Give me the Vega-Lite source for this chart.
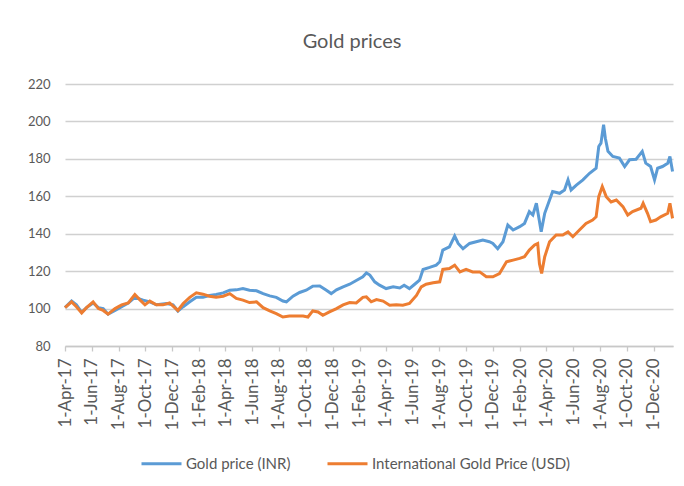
{
  "$schema": "https://vega.github.io/schema/vega-lite/v6.json",
  "width": 608,
  "height": 262,
  "autosize": {"type": "none"},
  "padding": {"left": 65, "top": 84, "right": 11, "bottom": 140},
  "background": "white",
  "title": {"text": "Gold prices", "fontSize": 20, "font": "Lato", "fontWeight": "normal", "color": "#595959", "offset": 26, "dx": -17},
  "config": {
    "view": {"stroke": null},
    "font": "Lato",
    "axisX": {"grid": false, "domain": true, "domainColor": "#c8c8c8", "domainWidth": 1.3, "ticks": true, "tickColor": "#c8c8c8", "tickWidth": 1.3, "tickSize": 5, "labelAngle": 270, "labelFontSize": 17, "labelColor": "#595959", "labelPadding": 7, "labelOverlap": false, "labelFlush": false, "title": null},
    "axisY": {"grid": true, "gridColor": "#d0d0d0", "gridWidth": 1.3, "domain": false, "ticks": false, "labelFontSize": 13, "labelColor": "#595959", "labelPadding": 15, "title": null}
  },
  "data": {"values": [
      {"series": "Gold price (INR)", "date": "2017-04-01", "value": 100.5}, {"series": "Gold price (INR)", "date": "2017-04-16", "value": 104}, {"series": "Gold price (INR)", "date": "2017-04-27", "value": 102},
      {"series": "Gold price (INR)", "date": "2017-05-09", "value": 98}, {"series": "Gold price (INR)", "date": "2017-05-20", "value": 100.5}, {"series": "Gold price (INR)", "date": "2017-06-04", "value": 103},
      {"series": "Gold price (INR)", "date": "2017-06-16", "value": 100.5}, {"series": "Gold price (INR)", "date": "2017-06-27", "value": 100}, {"series": "Gold price (INR)", "date": "2017-07-08", "value": 97},
      {"series": "Gold price (INR)", "date": "2017-07-24", "value": 99}, {"series": "Gold price (INR)", "date": "2017-08-08", "value": 101}, {"series": "Gold price (INR)", "date": "2017-08-23", "value": 103},
      {"series": "Gold price (INR)", "date": "2017-09-07", "value": 106}, {"series": "Gold price (INR)", "date": "2017-09-26", "value": 104.5}, {"series": "Gold price (INR)", "date": "2017-10-11", "value": 103.6},
      {"series": "Gold price (INR)", "date": "2017-10-26", "value": 102}, {"series": "Gold price (INR)", "date": "2017-11-18", "value": 102.7}, {"series": "Gold price (INR)", "date": "2017-12-03", "value": 102},
      {"series": "Gold price (INR)", "date": "2017-12-14", "value": 98.7}, {"series": "Gold price (INR)", "date": "2017-12-26", "value": 101}, {"series": "Gold price (INR)", "date": "2018-01-10", "value": 103.6},
      {"series": "Gold price (INR)", "date": "2018-01-25", "value": 106}, {"series": "Gold price (INR)", "date": "2018-02-09", "value": 106}, {"series": "Gold price (INR)", "date": "2018-02-24", "value": 107},
      {"series": "Gold price (INR)", "date": "2018-03-11", "value": 107.5}, {"series": "Gold price (INR)", "date": "2018-03-27", "value": 108.4}, {"series": "Gold price (INR)", "date": "2018-04-11", "value": 109.8},
      {"series": "Gold price (INR)", "date": "2018-04-26", "value": 110}, {"series": "Gold price (INR)", "date": "2018-05-11", "value": 110.7}, {"series": "Gold price (INR)", "date": "2018-05-26", "value": 109.8},
      {"series": "Gold price (INR)", "date": "2018-06-11", "value": 109.5}, {"series": "Gold price (INR)", "date": "2018-06-26", "value": 108}, {"series": "Gold price (INR)", "date": "2018-07-11", "value": 106.8},
      {"series": "Gold price (INR)", "date": "2018-07-26", "value": 106}, {"series": "Gold price (INR)", "date": "2018-08-10", "value": 104}, {"series": "Gold price (INR)", "date": "2018-08-18", "value": 103.6},
      {"series": "Gold price (INR)", "date": "2018-09-02", "value": 106.6}, {"series": "Gold price (INR)", "date": "2018-09-17", "value": 108.6}, {"series": "Gold price (INR)", "date": "2018-10-02", "value": 109.8},
      {"series": "Gold price (INR)", "date": "2018-10-17", "value": 112}, {"series": "Gold price (INR)", "date": "2018-11-02", "value": 112.1}, {"series": "Gold price (INR)", "date": "2018-11-17", "value": 109.8},
      {"series": "Gold price (INR)", "date": "2018-11-28", "value": 108}, {"series": "Gold price (INR)", "date": "2018-12-10", "value": 110}, {"series": "Gold price (INR)", "date": "2018-12-25", "value": 111.6},
      {"series": "Gold price (INR)", "date": "2019-01-09", "value": 113}, {"series": "Gold price (INR)", "date": "2019-01-24", "value": 115}, {"series": "Gold price (INR)", "date": "2019-02-08", "value": 117},
      {"series": "Gold price (INR)", "date": "2019-02-16", "value": 119}, {"series": "Gold price (INR)", "date": "2019-02-24", "value": 117.9}, {"series": "Gold price (INR)", "date": "2019-03-07", "value": 114.3},
      {"series": "Gold price (INR)", "date": "2019-03-18", "value": 112.5}, {"series": "Gold price (INR)", "date": "2019-04-02", "value": 110.7}, {"series": "Gold price (INR)", "date": "2019-04-18", "value": 111.6},
      {"series": "Gold price (INR)", "date": "2019-05-03", "value": 111}, {"series": "Gold price (INR)", "date": "2019-05-13", "value": 112.5}, {"series": "Gold price (INR)", "date": "2019-05-25", "value": 110.7},
      {"series": "Gold price (INR)", "date": "2019-06-06", "value": 113}, {"series": "Gold price (INR)", "date": "2019-06-17", "value": 115.2}, {"series": "Gold price (INR)", "date": "2019-06-25", "value": 120.9},
      {"series": "Gold price (INR)", "date": "2019-07-10", "value": 122}, {"series": "Gold price (INR)", "date": "2019-07-25", "value": 123.2}, {"series": "Gold price (INR)", "date": "2019-08-02", "value": 125},
      {"series": "Gold price (INR)", "date": "2019-08-09", "value": 131.25}, {"series": "Gold price (INR)", "date": "2019-08-24", "value": 133}, {"series": "Gold price (INR)", "date": "2019-09-05", "value": 138.75},
      {"series": "Gold price (INR)", "date": "2019-09-13", "value": 134.8}, {"series": "Gold price (INR)", "date": "2019-09-24", "value": 132}, {"series": "Gold price (INR)", "date": "2019-10-09", "value": 134.8},
      {"series": "Gold price (INR)", "date": "2019-10-24", "value": 135.7}, {"series": "Gold price (INR)", "date": "2019-11-08", "value": 136.6}, {"series": "Gold price (INR)", "date": "2019-11-23", "value": 135.7},
      {"series": "Gold price (INR)", "date": "2019-12-01", "value": 134.8}, {"series": "Gold price (INR)", "date": "2019-12-12", "value": 132}, {"series": "Gold price (INR)", "date": "2019-12-24", "value": 135.7},
      {"series": "Gold price (INR)", "date": "2020-01-04", "value": 144.6}, {"series": "Gold price (INR)", "date": "2020-01-16", "value": 142}, {"series": "Gold price (INR)", "date": "2020-01-31", "value": 143.75},
      {"series": "Gold price (INR)", "date": "2020-02-11", "value": 145.5}, {"series": "Gold price (INR)", "date": "2020-02-22", "value": 151.8}, {"series": "Gold price (INR)", "date": "2020-03-01", "value": 150},
      {"series": "Gold price (INR)", "date": "2020-03-09", "value": 156.25}, {"series": "Gold price (INR)", "date": "2020-03-20", "value": 141}, {"series": "Gold price (INR)", "date": "2020-03-28", "value": 150.9},
      {"series": "Gold price (INR)", "date": "2020-04-08", "value": 158}, {"series": "Gold price (INR)", "date": "2020-04-15", "value": 162.5}, {"series": "Gold price (INR)", "date": "2020-05-01", "value": 161.6},
      {"series": "Gold price (INR)", "date": "2020-05-12", "value": 163.4}, {"series": "Gold price (INR)", "date": "2020-05-20", "value": 168.75}, {"series": "Gold price (INR)", "date": "2020-05-27", "value": 163.4},
      {"series": "Gold price (INR)", "date": "2020-06-08", "value": 166}, {"series": "Gold price (INR)", "date": "2020-06-23", "value": 168.75}, {"series": "Gold price (INR)", "date": "2020-07-08", "value": 172.3},
      {"series": "Gold price (INR)", "date": "2020-07-23", "value": 175}, {"series": "Gold price (INR)", "date": "2020-07-29", "value": 186.6}, {"series": "Gold price (INR)", "date": "2020-08-03", "value": 188.4},
      {"series": "Gold price (INR)", "date": "2020-08-09", "value": 198.2}, {"series": "Gold price (INR)", "date": "2020-08-13", "value": 191}, {"series": "Gold price (INR)", "date": "2020-08-19", "value": 184},
      {"series": "Gold price (INR)", "date": "2020-08-30", "value": 181.25}, {"series": "Gold price (INR)", "date": "2020-09-14", "value": 180.4}, {"series": "Gold price (INR)", "date": "2020-09-26", "value": 175.9},
      {"series": "Gold price (INR)", "date": "2020-10-07", "value": 179.5}, {"series": "Gold price (INR)", "date": "2020-10-22", "value": 179.8}, {"series": "Gold price (INR)", "date": "2020-11-05", "value": 184},
      {"series": "Gold price (INR)", "date": "2020-11-13", "value": 177.7}, {"series": "Gold price (INR)", "date": "2020-11-24", "value": 175.9}, {"series": "Gold price (INR)", "date": "2020-12-03", "value": 168.75},
      {"series": "Gold price (INR)", "date": "2020-12-10", "value": 175}, {"series": "Gold price (INR)", "date": "2020-12-21", "value": 175.9}, {"series": "Gold price (INR)", "date": "2021-01-02", "value": 177.7},
      {"series": "Gold price (INR)", "date": "2021-01-07", "value": 181.25}, {"series": "Gold price (INR)", "date": "2021-01-13", "value": 173.2},
      {"series": "International Gold Price (USD)", "date": "2017-04-01", "value": 100.5}, {"series": "International Gold Price (USD)", "date": "2017-04-16", "value": 103.6}, {"series": "International Gold Price (USD)", "date": "2017-04-27", "value": 101},
      {"series": "International Gold Price (USD)", "date": "2017-05-09", "value": 97.7}, {"series": "International Gold Price (USD)", "date": "2017-05-20", "value": 100.5}, {"series": "International Gold Price (USD)", "date": "2017-06-04", "value": 103.6},
      {"series": "International Gold Price (USD)", "date": "2017-06-16", "value": 100}, {"series": "International Gold Price (USD)", "date": "2017-06-27", "value": 99}, {"series": "International Gold Price (USD)", "date": "2017-07-08", "value": 97},
      {"series": "International Gold Price (USD)", "date": "2017-07-24", "value": 100}, {"series": "International Gold Price (USD)", "date": "2017-08-08", "value": 102}, {"series": "International Gold Price (USD)", "date": "2017-08-23", "value": 103},
      {"series": "International Gold Price (USD)", "date": "2017-09-07", "value": 107.5}, {"series": "International Gold Price (USD)", "date": "2017-09-18", "value": 104.8}, {"series": "International Gold Price (USD)", "date": "2017-09-30", "value": 102},
      {"series": "International Gold Price (USD)", "date": "2017-10-11", "value": 104}, {"series": "International Gold Price (USD)", "date": "2017-10-26", "value": 102}, {"series": "International Gold Price (USD)", "date": "2017-11-10", "value": 102},
      {"series": "International Gold Price (USD)", "date": "2017-11-25", "value": 103}, {"series": "International Gold Price (USD)", "date": "2017-12-14", "value": 99}, {"series": "International Gold Price (USD)", "date": "2017-12-26", "value": 102.7},
      {"series": "International Gold Price (USD)", "date": "2018-01-10", "value": 106}, {"series": "International Gold Price (USD)", "date": "2018-01-25", "value": 108.4}, {"series": "International Gold Price (USD)", "date": "2018-02-09", "value": 107.7},
      {"series": "International Gold Price (USD)", "date": "2018-02-24", "value": 106.6}, {"series": "International Gold Price (USD)", "date": "2018-03-11", "value": 106}, {"series": "International Gold Price (USD)", "date": "2018-03-27", "value": 106.6},
      {"series": "International Gold Price (USD)", "date": "2018-04-11", "value": 108}, {"series": "International Gold Price (USD)", "date": "2018-04-26", "value": 105.4}, {"series": "International Gold Price (USD)", "date": "2018-05-11", "value": 104.5},
      {"series": "International Gold Price (USD)", "date": "2018-05-26", "value": 103.2}, {"series": "International Gold Price (USD)", "date": "2018-06-11", "value": 103.6}, {"series": "International Gold Price (USD)", "date": "2018-06-26", "value": 100.5},
      {"series": "International Gold Price (USD)", "date": "2018-07-11", "value": 98.75}, {"series": "International Gold Price (USD)", "date": "2018-07-26", "value": 97.3}, {"series": "International Gold Price (USD)", "date": "2018-08-10", "value": 95.5},
      {"series": "International Gold Price (USD)", "date": "2018-08-25", "value": 96}, {"series": "International Gold Price (USD)", "date": "2018-09-10", "value": 96}, {"series": "International Gold Price (USD)", "date": "2018-09-25", "value": 96},
      {"series": "International Gold Price (USD)", "date": "2018-10-06", "value": 95.5}, {"series": "International Gold Price (USD)", "date": "2018-10-17", "value": 98.75}, {"series": "International Gold Price (USD)", "date": "2018-10-29", "value": 98.2},
      {"series": "International Gold Price (USD)", "date": "2018-11-09", "value": 96.4}, {"series": "International Gold Price (USD)", "date": "2018-11-24", "value": 98.2}, {"series": "International Gold Price (USD)", "date": "2018-12-10", "value": 100},
      {"series": "International Gold Price (USD)", "date": "2018-12-25", "value": 102}, {"series": "International Gold Price (USD)", "date": "2019-01-09", "value": 103.2}, {"series": "International Gold Price (USD)", "date": "2019-01-24", "value": 103},
      {"series": "International Gold Price (USD)", "date": "2019-02-08", "value": 106}, {"series": "International Gold Price (USD)", "date": "2019-02-16", "value": 106.25}, {"series": "International Gold Price (USD)", "date": "2019-02-27", "value": 103.6},
      {"series": "International Gold Price (USD)", "date": "2019-03-11", "value": 104.8}, {"series": "International Gold Price (USD)", "date": "2019-03-26", "value": 104}, {"series": "International Gold Price (USD)", "date": "2019-04-10", "value": 101.8},
      {"series": "International Gold Price (USD)", "date": "2019-04-25", "value": 102}, {"series": "International Gold Price (USD)", "date": "2019-05-10", "value": 101.8}, {"series": "International Gold Price (USD)", "date": "2019-05-25", "value": 102.7},
      {"series": "International Gold Price (USD)", "date": "2019-06-10", "value": 107}, {"series": "International Gold Price (USD)", "date": "2019-06-21", "value": 111.6}, {"series": "International Gold Price (USD)", "date": "2019-07-02", "value": 113},
      {"series": "International Gold Price (USD)", "date": "2019-07-18", "value": 113.75}, {"series": "International Gold Price (USD)", "date": "2019-08-02", "value": 114.3}, {"series": "International Gold Price (USD)", "date": "2019-08-09", "value": 120.9},
      {"series": "International Gold Price (USD)", "date": "2019-08-24", "value": 121.4}, {"series": "International Gold Price (USD)", "date": "2019-09-05", "value": 123.2}, {"series": "International Gold Price (USD)", "date": "2019-09-17", "value": 119.6},
      {"series": "International Gold Price (USD)", "date": "2019-10-01", "value": 120.9}, {"series": "International Gold Price (USD)", "date": "2019-10-16", "value": 119.6}, {"series": "International Gold Price (USD)", "date": "2019-11-01", "value": 119.6},
      {"series": "International Gold Price (USD)", "date": "2019-11-16", "value": 117}, {"series": "International Gold Price (USD)", "date": "2019-12-01", "value": 117}, {"series": "International Gold Price (USD)", "date": "2019-12-16", "value": 118.75},
      {"series": "International Gold Price (USD)", "date": "2020-01-01", "value": 125}, {"series": "International Gold Price (USD)", "date": "2020-01-16", "value": 125.9}, {"series": "International Gold Price (USD)", "date": "2020-01-31", "value": 126.8},
      {"series": "International Gold Price (USD)", "date": "2020-02-11", "value": 127.7}, {"series": "International Gold Price (USD)", "date": "2020-02-22", "value": 131.25}, {"series": "International Gold Price (USD)", "date": "2020-03-05", "value": 134},
      {"series": "International Gold Price (USD)", "date": "2020-03-12", "value": 134.8}, {"series": "International Gold Price (USD)", "date": "2020-03-16", "value": 124}, {"series": "International Gold Price (USD)", "date": "2020-03-21", "value": 118.75},
      {"series": "International Gold Price (USD)", "date": "2020-03-28", "value": 127.7}, {"series": "International Gold Price (USD)", "date": "2020-04-08", "value": 135.7}, {"series": "International Gold Price (USD)", "date": "2020-04-23", "value": 139.3},
      {"series": "International Gold Price (USD)", "date": "2020-05-08", "value": 139.3}, {"series": "International Gold Price (USD)", "date": "2020-05-20", "value": 141}, {"series": "International Gold Price (USD)", "date": "2020-05-31", "value": 138.4},
      {"series": "International Gold Price (USD)", "date": "2020-06-15", "value": 142}, {"series": "International Gold Price (USD)", "date": "2020-06-30", "value": 145.5}, {"series": "International Gold Price (USD)", "date": "2020-07-15", "value": 147.3},
      {"series": "International Gold Price (USD)", "date": "2020-07-23", "value": 149}, {"series": "International Gold Price (USD)", "date": "2020-07-29", "value": 159.8}, {"series": "International Gold Price (USD)", "date": "2020-08-06", "value": 165.2},
      {"series": "International Gold Price (USD)", "date": "2020-08-15", "value": 159.8}, {"series": "International Gold Price (USD)", "date": "2020-08-26", "value": 157}, {"series": "International Gold Price (USD)", "date": "2020-09-07", "value": 158},
      {"series": "International Gold Price (USD)", "date": "2020-09-22", "value": 154.5}, {"series": "International Gold Price (USD)", "date": "2020-10-03", "value": 150}, {"series": "International Gold Price (USD)", "date": "2020-10-14", "value": 151.8},
      {"series": "International Gold Price (USD)", "date": "2020-11-02", "value": 153.6}, {"series": "International Gold Price (USD)", "date": "2020-11-07", "value": 156.25}, {"series": "International Gold Price (USD)", "date": "2020-11-17", "value": 150.9},
      {"series": "International Gold Price (USD)", "date": "2020-11-24", "value": 146.4}, {"series": "International Gold Price (USD)", "date": "2020-12-06", "value": 147.3}, {"series": "International Gold Price (USD)", "date": "2020-12-17", "value": 149},
      {"series": "International Gold Price (USD)", "date": "2021-01-02", "value": 150.9}, {"series": "International Gold Price (USD)", "date": "2021-01-07", "value": 156.25}, {"series": "International Gold Price (USD)", "date": "2021-01-13", "value": 148.2}
  ]},
  "mark": {"type": "line", "strokeWidth": 3},
  "encoding": {
    "x": {
      "field": "date", "type": "temporal", "title": null,
      "scale": {"domain": [{"year": 2017, "month": 4, "date": 1}, {"year": 2021, "month": 1, "date": 14}]},
      "axis": {
        "format": "%-d-%b-%y",
        "values": [
          {"year": 2017, "month": 4, "date": 1}, {"year": 2017, "month": 6, "date": 1}, {"year": 2017, "month": 8, "date": 1},
          {"year": 2017, "month": 10, "date": 1}, {"year": 2017, "month": 12, "date": 1}, {"year": 2018, "month": 2, "date": 1},
          {"year": 2018, "month": 4, "date": 1}, {"year": 2018, "month": 6, "date": 1}, {"year": 2018, "month": 8, "date": 1},
          {"year": 2018, "month": 10, "date": 1}, {"year": 2018, "month": 12, "date": 1}, {"year": 2019, "month": 2, "date": 1},
          {"year": 2019, "month": 4, "date": 1}, {"year": 2019, "month": 6, "date": 1}, {"year": 2019, "month": 8, "date": 1},
          {"year": 2019, "month": 10, "date": 1}, {"year": 2019, "month": 12, "date": 1}, {"year": 2020, "month": 2, "date": 1},
          {"year": 2020, "month": 4, "date": 1}, {"year": 2020, "month": 6, "date": 1}, {"year": 2020, "month": 8, "date": 1},
          {"year": 2020, "month": 10, "date": 1}, {"year": 2020, "month": 12, "date": 1}
        ]
      }
    },
    "y": {
      "field": "value", "type": "quantitative", "title": null,
      "scale": {"domain": [80, 220], "nice": false, "zero": false},
      "axis": {"tickCount": 7}
    },
    "color": {
      "field": "series", "type": "nominal",
      "scale": {"domain": ["Gold price (INR)", "International Gold Price (USD)"], "range": ["#5B9BD5", "#ED7D31"]},
      "legend": {
        "title": null, "orient": "none", "direction": "horizontal", "legendX": 75, "legendY": 358,
        "symbolType": "stroke", "symbolStrokeWidth": 3, "symbolSize": 1600,
        "labelFontSize": 15, "labelColor": "#595959", "labelOffset": 3, "columnPadding": 30, "labelLimit": 400
      }
    }
  }
}
